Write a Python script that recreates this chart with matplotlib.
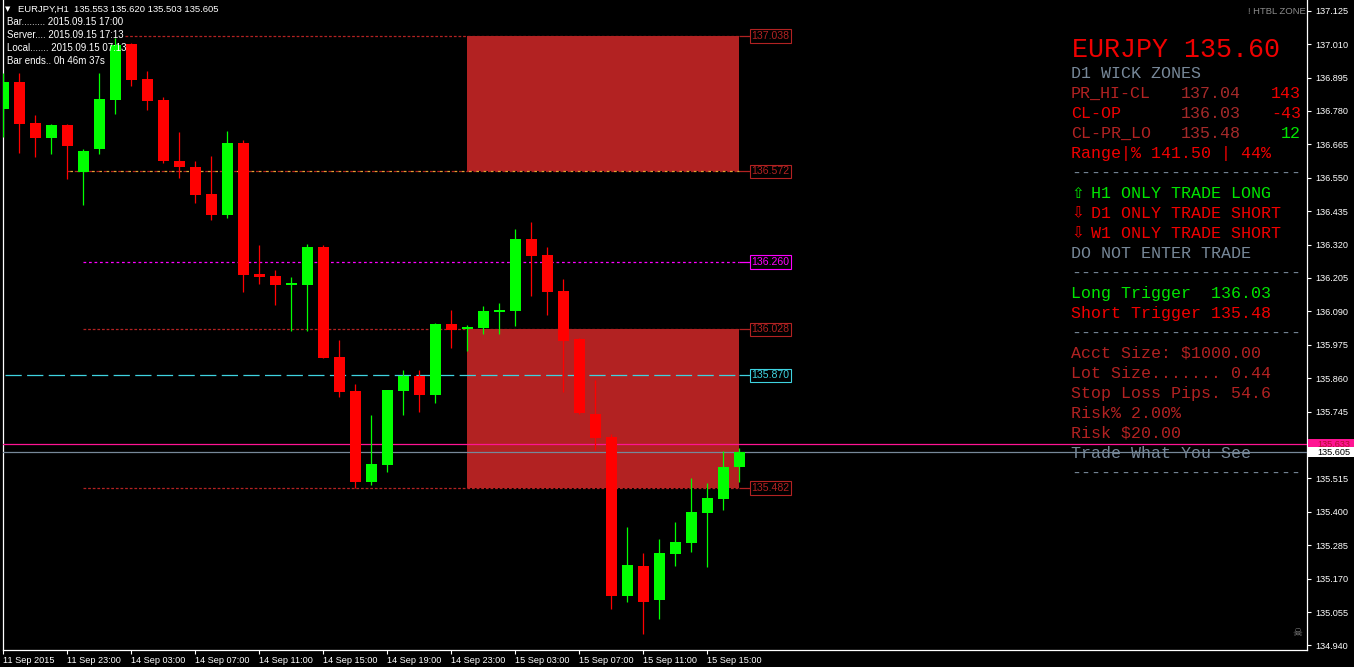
import matplotlib
matplotlib.use('Agg')
import matplotlib.pyplot as plt
import matplotlib.transforms as mtransforms
from matplotlib.patches import Rectangle
import numpy as np

W, H = 1354, 667

# EURJPY H1 bars, 11 Sep 19:00 .. 15 Sep 17:00
opens = [136.788, 136.880, 136.739, 136.688, 136.732, 136.571, 136.650, 136.819, 137.010, 136.890,
         136.818, 136.608, 136.587, 136.494, 136.422, 136.670, 136.219, 136.212, 136.182, 136.181,
         136.312, 135.933, 135.816, 135.504, 135.561, 135.817, 135.868, 135.802, 136.047, 136.028,
         136.034, 136.089, 136.092, 136.339, 136.284, 136.160, 135.995, 135.737, 135.658, 135.111,
         135.214, 135.098, 135.256, 135.294, 135.397, 135.445, 135.553]
highs = [136.910, 136.911, 136.766, 136.735, 136.734, 136.649, 136.911, 137.030, 137.014, 136.918,
         136.827, 136.708, 136.608, 136.625, 136.711, 136.680, 136.319, 136.233, 136.208, 136.322,
         136.319, 135.992, 135.840, 135.733, 135.819, 135.888, 135.888, 136.050, 136.095, 136.043,
         136.109, 136.119, 136.374, 136.398, 136.312, 136.202, 135.998, 135.854, 135.668, 135.348,
         135.258, 135.307, 135.365, 135.517, 135.499, 135.609, 135.620]
lows = [136.691, 136.636, 136.623, 136.632, 136.547, 136.457, 136.632, 136.771, 136.867, 136.783,
        136.602, 136.549, 136.463, 136.405, 136.412, 136.158, 136.185, 136.112, 136.024, 136.024,
        135.929, 135.796, 135.481, 135.492, 135.538, 135.733, 135.745, 135.775, 135.964, 135.955,
        136.013, 136.013, 136.041, 136.144, 136.079, 135.814, 135.737, 135.613, 135.067, 135.091,
        134.981, 135.032, 135.215, 135.263, 135.211, 135.407, 135.503]
closes = [136.880, 136.736, 136.688, 136.732, 136.660, 136.642, 136.821, 137.007, 136.887, 136.814,
          136.608, 136.587, 136.491, 136.422, 136.670, 136.215, 136.208, 136.181, 136.184, 136.312,
          135.931, 135.814, 135.504, 135.565, 135.819, 135.868, 135.802, 136.047, 136.026, 136.036,
          136.091, 136.095, 136.339, 136.282, 136.158, 135.989, 135.739, 135.655, 135.111, 135.217,
          135.091, 135.258, 135.296, 135.399, 135.448, 135.554, 135.605]

time_ticks = [0, 4, 8, 12, 16, 20, 24, 28, 32, 36, 40, 44]
time_labels = ['11 Sep 2015', '11 Sep 23:00', '14 Sep 03:00', '14 Sep 07:00', '14 Sep 11:00',
               '14 Sep 15:00', '14 Sep 19:00', '14 Sep 23:00', '15 Sep 03:00', '15 Sep 07:00',
               '15 Sep 11:00', '15 Sep 15:00']
price_ticks = [137.125, 137.010, 136.895, 136.780, 136.665, 136.550, 136.435, 136.320, 136.205,
               136.090, 135.975, 135.860, 135.745, 135.515, 135.400, 135.285, 135.170, 135.055, 134.940]

# wick zones
zone_hi = [137.038, 136.028]
zone_lo = [136.572, 135.482]
zone_start, zone_end = 29, 46

# level lines
level_prices = [137.038, 136.572, 136.260, 136.028, 135.870, 135.482]
level_colors = ['#B22222', '#B22222', '#FF00FF', '#B22222', '#3FD3E0', '#B22222']
level_start = [7.6, 4, 5, 5, 0.1, 5]
level_dash = [(0, (2.2, 1.5)), (0, (2.2, 3.6)), (0, (2.2, 2.2)), (0, (2.2, 1.5)), (0, (13, 4.3)), (0, (2.2, 1.5))]
ask_price = 135.633
bid_price = 135.605

plt.rcParams['font.family'] = 'Liberation Sans'

fig = plt.figure(figsize=(W / 100, H / 100), dpi=100, facecolor='black')
ax = fig.add_axes([2.5 / W, 17 / H, (1307 - 2.5) / W, 650 / H])
ax.set_facecolor('black')
ax.set_xlim(-0.0625, 81.47)
ax.set_ylim(134.9244, 137.1619)

# zones
for hi, lo in zip(zone_hi, zone_lo):
    ax.fill_between([zone_start, zone_end], lo, hi, color='#B22222', lw=0, zorder=2)

# level lines + labels
for p, c, s, d in zip(level_prices, level_colors, level_start, level_dash):
    ax.hlines(p, s, zone_end, colors=c, lw=0.9, linestyles=[d], zorder=3)
    ax.hlines(p, zone_end, zone_end + 0.66, colors=c, lw=0.9, zorder=3)
    ax.text(zone_end + 0.74, p, f'{p:.3f}', color=c, fontsize=7.6, ha='left', va='center', zorder=6,
            bbox=dict(boxstyle='square,pad=0.15', fc='black', ec=c, lw=0.8))
# orange dashes interleaved on the 136.572 line
ax.hlines(level_prices[1], level_start[1], zone_end, colors='#E8A030', lw=0.9,
          linestyles=[(3.6, (2.2, 3.6))], zorder=3)

ax.axhline(ask_price, color='#FF1493', lw=0.9, zorder=3)
ax.axhline(bid_price, color='#778899', lw=0.9, zorder=3)

# candles
x = np.arange(len(opens))
o = np.array(opens)
c = np.array(closes)
col = np.where(c >= o, '#00FF00', '#FF0000')
ax.vlines(x, lows, highs, colors=col, lw=0.9, zorder=4)
ax.bar(x, np.maximum(np.abs(c - o), 0.006), bottom=np.minimum(o, c), width=0.69,
       color=col, lw=0, zorder=5)

# axes
ax.yaxis.tick_right()
ax.set_yticks(price_ticks)
ax.set_yticklabels([f'{v:.3f}' for v in price_ticks])
ax.set_xticks(time_ticks)
ax.set_xticklabels(time_labels, ha='left')
ax.tick_params(axis='y', colors='white', labelsize=6.6, length=3, width=0.8, pad=3)
ax.tick_params(axis='x', colors='white', labelsize=6.6, length=3, width=0.8, pad=1)
for side in ['left', 'right', 'bottom']:
    ax.spines[side].set_color('white')
    ax.spines[side].set_linewidth(0.9)
ax.spines['top'].set_visible(False)

# bid / ask labels on the price axis
fig.canvas.draw()
for p, fc, tc in [(ask_price, '#FF1493', '#B0102A'), (bid_price, 'white', 'black')]:
    yp = ax.transData.transform((0, p))[1]
    fig.add_artist(Rectangle((1308, yp - 5), 46, 10, transform=mtransforms.IdentityTransform(),
                             fc=fc, ec='none', zorder=6))
    fig.text(1317 / W, yp / H, f'{p:.3f}', color=tc, fontsize=6.6, va='center', ha='left', zorder=7)


def ptext(x0, y, s, color, size=7, family='Liberation Sans', **kw):
    fig.text(x0 / W, 1 - y / H, s, color=color, fontsize=size, family=family, ha='left', **kw)


# chart header
ptext(5, 9, '\u25bc', 'white', size=5, family='DejaVu Sans', va='center')
ptext(18, 9, 'EURJPY,H1  135.553 135.620 135.503 135.605', 'white', size=6.8, va='center')
info = ['Bar......... 2015.09.15 17:00', 'Server.... 2015.09.15 17:13',
        'Local....... 2015.09.15 07:13', 'Bar ends.. 0h 46m 37s']
for i, s in enumerate(info):
    ptext(7, 22 + 13 * i, s, 'white', size=7, va='center')
fig.text(1306 / W, 1 - 11 / H, '! HTBL ZONE', color='#8C8C8C', fontsize=6.8, ha='right', va='center')
ptext(1292, 633, '\u2620', '#8C8C8C', size=8, family='DejaVu Sans', va='center')

# info panel
RED = '#F00000'
DRED = '#B22222'
BROWN = '#A52A2A'
GRAY = '#778899'
LIME = '#00E600'
X0, CW = 1071, 10.0
mono = 'Liberation Mono'


def row_y(r):
    return 77.7 + 20 * (r - 1)


ptext(1072, 57, 'EURJPY 135.60', RED, size=19.2, family=mono, va='baseline')
rows = [
    (1, [(0, 'D1 WICK ZONES', GRAY)]),
    (2, [(0, 'PR_HI-CL', DRED), (11, '137.04', BROWN), (20, '143', RED)]),
    (3, [(0, 'CL-OP', RED), (11, '136.03', BROWN), (20, '-43', RED)]),
    (4, [(0, 'CL-PR_LO', DRED), (11, '135.48', BROWN), (21, '12', LIME)]),
    (5, [(0, 'Range|% 141.50 | 44%', RED)]),
    (6, [(0, '-' * 23, GRAY)]),
    (7, [(2, 'H1 ONLY TRADE LONG', LIME)]),
    (8, [(2, 'D1 ONLY TRADE SHORT', RED)]),
    (9, [(2, 'W1 ONLY TRADE SHORT', RED)]),
    (10, [(0, 'DO NOT ENTER TRADE', GRAY)]),
    (11, [(0, '-' * 23, GRAY)]),
    (12, [(0, 'Long Trigger  136.03', LIME)]),
    (13, [(0, 'Short Trigger 135.48', RED)]),
    (14, [(0, '-' * 23, GRAY)]),
    (15, [(0, 'Acct Size: $1000.00', DRED)]),
    (16, [(0, 'Lot Size....... 0.44', DRED)]),
    (17, [(0, 'Stop Loss Pips. 54.6', DRED)]),
    (18, [(0, 'Risk% 2.00%', DRED)]),
    (19, [(0, 'Risk $20.00', DRED)]),
    (20, [(0, 'Trade What You See', GRAY)]),
    (21, [(0, '-' * 23, GRAY)]),
]
for r, segs in rows:
    for col_i, s, clr in segs:
        ptext(X0 + col_i * CW, row_y(r), s, clr, size=12, family=mono, va='baseline')
ptext(X0, row_y(7), '\u21e7', LIME, size=11, family='DejaVu Sans', va='baseline')
ptext(X0, row_y(8), '\u21e9', RED, size=11, family='DejaVu Sans', va='baseline')
ptext(X0, row_y(9), '\u21e9', RED, size=11, family='DejaVu Sans', va='baseline')

fig.savefig('out.png', dpi=100, facecolor='black')
